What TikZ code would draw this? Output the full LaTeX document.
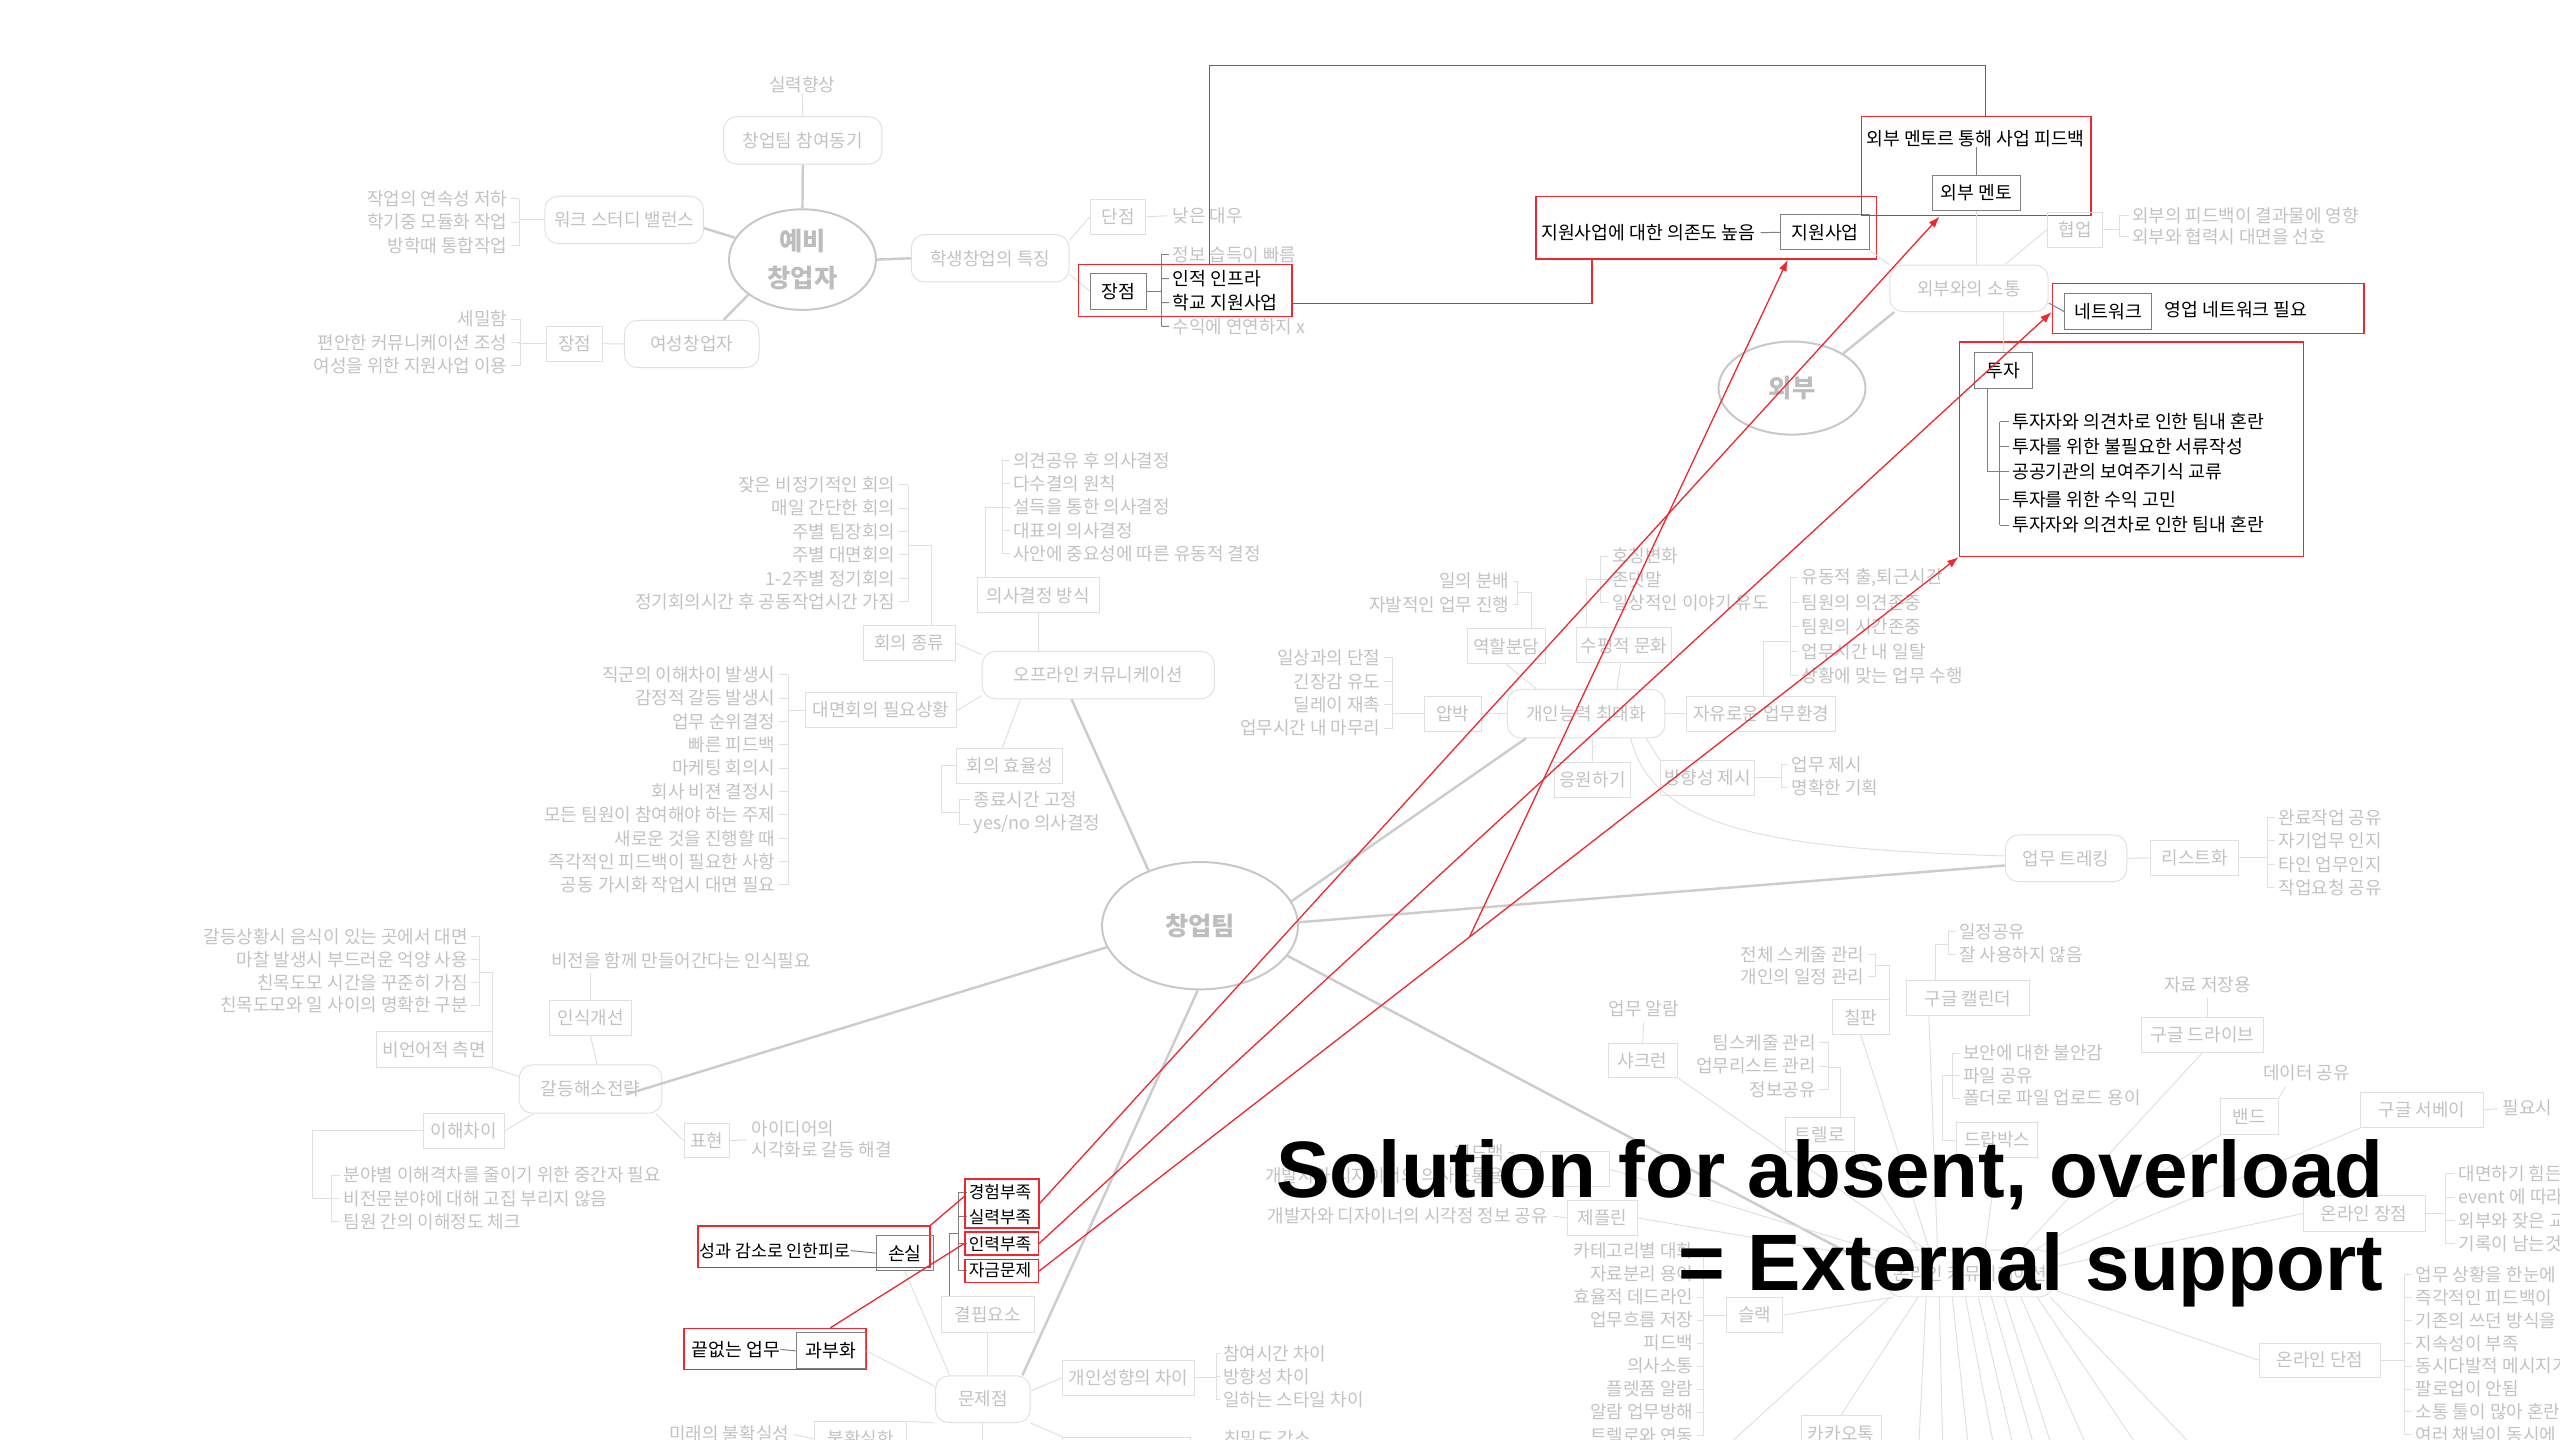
\documentclass[tikz,border=0pt]{standalone}
\usepackage{fontspec}
\usepackage{xcolor}
\usetikzlibrary{shapes.geometric, arrows.meta}
\newfontfamily\kr{Noto Sans CJK KR}
\newfontfamily\titlefont{Liberation Sans}

\definecolor{txtgrey}{gray}{0.76}
\definecolor{boxgrey}{gray}{0.88}
\definecolor{linegrey}{gray}{0.80}
\definecolor{hubgrey}{gray}{0.78}
\definecolor{hubtext}{gray}{0.74}
\definecolor{hotgrey}{gray}{0.50}
\definecolor{redline}{RGB}{238,40,46}

\tikzset{
  every node/.style={font=\kr\fontsize{11}{13}\selectfont},
  leaf/.style={text=txtgrey, inner sep=0pt},
  hotleaf/.style={text=black, inner sep=0pt, font=\kr\fontsize{11.2}{13}\selectfont},
  topic/.style={draw=boxgrey, line width=0.6pt, rounded corners=8pt, text=txtgrey, minimum height=29pt, inner sep=1.5pt},
  sub/.style={draw=boxgrey, line width=0.6pt, text=txtgrey, minimum height=21.5pt, inner sep=1.5pt},
  hot/.style={draw=hotgrey, line width=0.6pt, text=black, minimum height=21.5pt, inner sep=1.5pt, font=\kr\fontsize{11.2}{13}\selectfont},
  hub/.style={ellipse, draw=hubgrey, line width=1.2pt, text=hubtext, inner sep=0pt, align=center, font=\kr\bfseries\fontsize{15.5}{22.4}\selectfont},
  branch/.style={draw=linegrey, line width=1.5pt},
  twig/.style={draw=boxgrey, line width=0.6pt},
  hottwig/.style={draw=hotgrey, line width=0.6pt},
  redbox/.style={draw=redline, line width=0.8pt, inner sep=0pt},
  redlink/.style={draw=redline, line width=0.8pt},
  redarrow/.style={redlink, -{Latex[length=7pt,width=5pt]}},
}

\begin{document}
\begin{tikzpicture}[x=1pt, y=-1pt]
    \useasboundingbox (0,0) rectangle (1568,882);
    \clip (0,0) rectangle (1568,882);

    % pre-founder
    \node[hub, minimum width=90pt, minimum height=61.6pt] (pre) at (491.5,159) {예비\\창업자};
    \node[topic, minimum width=97pt] (motive) at (491.7,86) {창업팀 참여동기};
    \node[leaf] (skill) at (491.4,52) {실력향상};
    \draw[twig] (skill.south) -- (motive.north);
    \draw[branch] (pre.north) -- (motive.south);

    \node[topic, minimum width=97pt] (wsb) at (382.3,134.7) {워크 스터디 밸런스};
    \draw[branch] (pre.162) -- ([yshift=-5pt]wsb.east);
    \foreach \t [count=\i from 0] in {작업의 연속성 저하, 학기중 모듈화 작업, 방학때 통합작업}{
        \node[leaf, anchor=east] (wsb\i) at (311,{121.8+14.3*\i}) {\t};
        \draw[twig] ([xshift=2pt]wsb\i.east) -- (318,{121.8+14.3*\i});
    }
    \draw[twig] (318,121.8) -- (318,150.4);
    \draw[twig] (wsb.west) -- ++(-15.8,0);

    \node[topic, minimum width=82.5pt] (women) at (423.7,210.7) {여성창업자};
    \draw[branch] (pre.213) -- ([xshift=19.5pt]women.north);
    \node[sub, minimum width=34.5pt] (wpro) at (352,210.5) {장점};
    \draw[twig] (wpro.east) -- (women.west);
    \foreach \t [count=\i from 0] in {세밀함, 편안한 커뮤니케이션 조성, 여성을 위한 지원사업 이용}{
        \node[leaf, anchor=east] (wp\i) at (311,{195.5+14.3*\i}) {\t};
        \draw[twig] ([xshift=2pt]wp\i.east) -- (318.5,{195.5+14.3*\i});
    }
    \draw[twig] (318.5,195.5) -- (318.5,224.1);
    \draw[twig] (wpro.west) -- ++(-16.5,0);

    \node[topic, minimum width=96.7pt] (student) at (606.5,158.2) {학생창업의 특징};
    \draw[branch] (pre.east) -- (student.west);
    \node[sub, minimum width=34.2pt] (scon) at (684.8,132.8) {단점};
    \draw[twig] ([yshift=11pt]student.east) -- (scon.west);
    \node[leaf, anchor=west] (lowpay) at (718.2,132) {낮은 대우};
    \draw[twig, shorten >=3pt] (scon.east) -- (lowpay.west);
    \node[hot, minimum width=34.3pt, minimum height=22pt] (spro) at (685,178.4) {장점};
    \draw[twig] ([yshift=-10pt]student.east) -- (spro.west);
    \node[leaf, anchor=west] (sp0) at (718.1,156.1) {정보 습득이 빠름};
    \node[hotleaf, anchor=west] (sp1) at (718.1,170.7) {인적 인프라};
    \node[hotleaf, anchor=west] (sp2) at (718.1,185.3) {학교 지원사업};
    \node[leaf, anchor=west] (sp3) at (718.1,199.9) {수익에 연연하지 x};
    \foreach \i in {0,...,3}
        \draw[hottwig] (711.3,{156.1+14.6*\i}) -- ([xshift=-2pt]sp\i.west);
    \draw[hottwig] (711.3,156.1) -- (711.3,199.9);
    \draw[hottwig] (spro.east) -- (711.3,178.4);
    \node[redbox, minimum width=130.8pt, minimum height=32pt] (rJang) at (726,177.9) {};

    % external
    \node[redbox, minimum width=208.5pt, minimum height=38.3pt] (rJiwon) at (1045,139.5) {};
    \node[hotleaf, anchor=west] (depend) at (943.8,142.5) {지원사업에 대한 의존도 높음};
    \node[hot, minimum width=54pt] (support) at (1117.8,142.3) {지원사업};
    \draw[hottwig] ([xshift=3pt]depend.east) -- (support.west);

    \node[redbox, minimum width=140.4pt, minimum height=60.8pt] (rMentor) at (1210.5,101.8) {};
    \node[hotleaf] (feedback) at (1210,85) {외부 멘토르 통해 사업 피드백};
    \node[hot, minimum width=53.8pt] (mentor) at (1210.6,118.3) {외부 멘토};
    \draw[hottwig] (mentor.north) -- (mentor.north |- feedback.south);

    \node[topic, minimum width=97pt, minimum height=28.5pt] (extcomm) at (1206,176.6) {외부와의 소통};
    \node[hub, minimum width=90pt, minimum height=57pt] (ext) at (1097.6,237.7) {외부};
    \draw[branch] (ext.34) -- ([xshift=3pt]extcomm.south west);
    \draw[twig] (extcomm.north west) -- (support.south east);
    \draw[twig] (extcomm.north -| mentor.south) -- (mentor.south);
    \node[sub, minimum width=34pt, minimum height=21.4pt] (collab) at (1271,140.7) {협업};
    \draw[twig] ([xshift=22pt]extcomm.north) -- (collab.west);
    \node[leaf, anchor=west] (cb0) at (1305.7,132) {외부의 피드백이 결과물에 영향};
    \node[leaf, anchor=west] (cb1) at (1305.7,145) {외부와 협력시 대면을 선호};
    \draw[twig] ([xshift=-2pt]cb0.west) -- (1298,132) -- (1298,145) -- ([xshift=-2pt]cb1.west);
    \draw[twig] (collab.east) -- (1298,140.7);

    \node[redbox, minimum width=191pt, minimum height=30.6pt] (rNet) at (1352.5,189.1) {};
    \node[hot, minimum width=53.5pt] (network) at (1291.3,190.8) {네트워크};
    \node[hotleaf, anchor=west] (salesnet) at (1325.7,189.5) {영업 네트워크 필요};
    \draw[hottwig] ([yshift=-9pt]extcomm.east) -- (network.west);

    \node[redbox, minimum width=210.7pt, minimum height=131.3pt] (rInvest) at (1305.35,275.15) {};
    \node[hot, minimum width=35.2pt, minimum height=21.8pt] (invest) at (1227.2,227.1) {투자};
    \draw[twig] (extcomm.south -| invest.north) -- (invest.north);
    \foreach \t/\y [count=\i from 0] in {투자자와 의견차로 인한 팀내 혼란/258.3, 투자를 위한 불필요한 서류작성/273.5, 공공기관의 보여주기식 교류/288.8, 투자를 위한 수익 고민/305.9, 투자자와 의견차로 인한 팀내 혼란/321.6}{
        \node[hotleaf, anchor=west] (iv\i) at (1232.3,\y) {\t};
        \draw[hottwig] (1224.8,\y) -- ([xshift=-2pt]iv\i.west);
    }
    \draw[hottwig] (1224.8,258.3) -- (1224.8,321.6);
    \draw[hottwig] ([xshift=-10pt]invest.south) |- (1224.8,288.8);

    % startup team
    \node[hub, minimum width=120pt, minimum height=78pt] (team) at (735,567) {창업팀};

    % offline communication
    \node[topic, minimum width=142.2pt] (offline) at (672.7,413.5) {오프라인 커뮤니케이션};
    \draw[branch] (team.133) -- ([xshift=-16.4pt]offline.south);
    \node[sub, minimum width=75pt] (decision) at (636,364.7) {의사결정 방식};
    \draw[twig] (decision.south) -- (decision.south |- offline.north);
    \foreach \t [count=\i from 0] in {의견공유 후 의사결정, 다수결의 원칙, 설득을 통한 의사결정, 대표의 의사결정, 사안에 중요성에 따른 유동적 결정}{
        \node[leaf, anchor=west] (dc\i) at (620.4,{282+14.3*\i}) {\t};
        \draw[twig] (614.1,{282+14.3*\i}) -- ([xshift=-2pt]dc\i.west);
    }
    \draw[twig] (614.1,282) -- (614.1,339.2);
    \draw[twig] ([xshift=5.6pt]decision.north west) |- (614.1,310.6);

    \node[sub, minimum width=56.2pt] (meetkind) at (556.9,393.9) {회의 종류};
    \draw[twig] (meetkind.east) -- (offline.170);
    \foreach \t [count=\i from 0] in {잦은 비정기적인 회의, 매일 간단한 회의, 주별 팀장회의, 주별 대면회의, 1-2주별 정기회의, 정기회의시간 후 공동작업시간 가짐}{
        \node[leaf, anchor=east] (mk\i) at (548.5,{297+14.3*\i}) {\t};
        \draw[twig] ([xshift=2pt]mk\i.east) -- (556.3,{297+14.3*\i});
    }
    \draw[twig] (556.3,297) -- (556.3,368.5);
    \draw[twig] ([xshift=13.5pt]meetkind.north) |- (556.3,333.9);

    \node[sub, minimum width=92.8pt] (faceneed) at (539.6,435) {대면회의 필요상황};
    \draw[twig] (faceneed.east) -- (offline.190);
    \foreach \t [count=\i from 0] in {직군의 이해차이 발생시, 감정적 갈등 발생시, 업무 순위결정, 빠른 피드백, 마케팅 회의시, 회사 비젼 결정시, 모든 팀원이 참여해야 하는 주제, 새로운 것을 진행할 때, 즉각적인 피드백이 필요한 사항, 공동 가시화 작업시 대면 필요}{
        \node[leaf, anchor=east] (fn\i) at (475.1,{413.3+14.3*\i}) {\t};
        \draw[twig] ([xshift=2pt]fn\i.east) -- (482.9,{413.3+14.3*\i});
    }
    \draw[twig] (482.9,413.3) -- (482.9,542);
    \draw[twig] (faceneed.west) -- (482.9,435);

    \node[sub, minimum width=65pt] (efficiency) at (618.5,469) {회의 효율성};
    \draw[twig] ([xshift=-4.5pt]efficiency.north) -- ([xshift=-47.7pt]offline.south);
    \node[leaf, anchor=west] (ef0) at (596.3,489.8) {종료시간 고정};
    \node[leaf, anchor=west] (ef1) at (596.3,505.1) {yes/no 의사결정};
    \draw[twig] ([xshift=-2pt]ef0.west) -- (587.5,489.8) -- (587.5,505.1) -- ([xshift=-2pt]ef1.west);
    \draw[twig] (efficiency.west) -- (576.6,469) |- (587.5,497.4);

    % personal ability
    \node[topic, minimum width=96.5pt, minimum height=29.6pt] (ability) at (971.5,437.1) {개인능력 최대화};
    \draw[branch] (team.15) -- ([xshift=-36.8pt]ability.south);
    \node[sub, minimum width=47.8pt] (role) at (922.7,395.9) {역할분담};
    \draw[twig] (role.south) -- ([xshift=-30.5pt]ability.north);
    \node[leaf, anchor=east] (rl0) at (924.7,356) {일의 분배};
    \node[leaf, anchor=east] (rl1) at (924.7,370.3) {자발적인 업무 진행};
    \draw[twig] ([xshift=2pt]rl0.east) -- (929.5,356) -- (929.5,370.3) -- ([xshift=2pt]rl1.east);
    \draw[twig] (929.5,363.2) -| ([xshift=15.2pt]role.north);

    \node[sub, minimum width=58.4pt] (flat) at (994.6,395.3) {수평적 문화};
    \draw[twig] ([xshift=-2pt]flat.south) -- ([xshift=18.8pt]ability.north);
    \foreach \t [count=\i from 0] in {호칭변화, 존댓말, 일상적인 이야기 유도}{
        \node[leaf, anchor=west] (fl\i) at (987.2,{340.7+14.3*\i}) {\t};
        \draw[twig] (980,{340.7+14.3*\i}) -- ([xshift=-2pt]fl\i.west);
    }
    \draw[twig] (980,340.7) -- (980,369.3);
    \draw[twig] ([xshift=-23pt]flat.north) |- (980,355);

    \node[sub, minimum width=34.9pt] (pressure) at (889.8,437.1) {압박};
    \draw[twig] (pressure.east) -- (ability.west);
    \foreach \t [count=\i from 0] in {일상과의 단절, 긴장감 유도, 딜레이 재촉, 업무시간 내 마무리}{
        \node[leaf, anchor=east] (pr\i) at (845.7,{403+14.3*\i}) {\t};
        \draw[twig] ([xshift=2pt]pr\i.east) -- (852.9,{403+14.3*\i});
    }
    \draw[twig] (852.9,403) -- (852.9,445.9);
    \draw[twig] (pressure.west) -- (852.9,437.1);

    \node[sub, minimum width=91.3pt] (freework) at (1078.7,437.1) {자유로운 업무환경};
    \draw[twig] (ability.east) -- (freework.west);
    \foreach \t [count=\i from 0] in {{유동적 출,퇴근시간}, 팀원의 의견존중, 팀원의 시간존중, 업무시간 내 일탈, 상황에 맞는 업무 수행}{
        \node[leaf, anchor=west] (fw\i) at (1103.4,{354+15*\i}) {\t};
        \draw[twig] (1096.6,{354+15*\i}) -- ([xshift=-2pt]fw\i.west);
    }
    \draw[twig] (1096.6,354) -- (1096.6,414);
    \draw[twig] ([xshift=1.3pt]freework.north) |- (1096.6,392.7);

    \node[sub, minimum width=46.9pt] (cheer) at (975.4,477.5) {응원하기};
    \draw[twig] ([xshift=3.8pt]ability.south) -- (cheer.north);
    \node[sub, minimum width=57.8pt] (direction) at (1045.8,476.5) {방향성 제시};
    \draw[twig] ([xshift=36.7pt]ability.south) -- (direction.north west);
    \node[leaf, anchor=west] (dr0) at (1097.2,468.2) {업무 제시};
    \node[leaf, anchor=west] (dr1) at (1097.2,482.5) {명확한 기획};
    \draw[twig] ([xshift=-2pt]dr0.west) -- (1091,468.2) -- (1091,482.5) -- ([xshift=-2pt]dr1.west);
    \draw[twig] (direction.east) -- (1091,476.5);

    % work tracking
    \node[topic, minimum width=74.5pt, minimum height=28.6pt] (tracking) at (1265.5,525.7) {업무 트레킹};
    \draw[branch] (team.2) -- ([yshift=-4.4pt]tracking.west);
    \draw[twig] ([xshift=27.3pt]ability.south) .. controls (1013,512) and (1100,520) .. ([yshift=1.4pt]tracking.west);
    \node[sub, minimum width=53.8pt, minimum height=21pt] (listing) at (1344.3,525.5) {리스트화};
    \draw[twig] (tracking.east) -- (listing.west);
    \foreach \t [count=\i from 0] in {완료작업 공유, 자기업무 인지, 타인 업무인지, 작업요청 공유}{
        \node[leaf, anchor=west] (ls\i) at (1395.4,{500.8+14.3*\i}) {\t};
        \draw[twig] (1388.8,{500.8+14.3*\i}) -- ([xshift=-2pt]ls\i.west);
    }
    \draw[twig] (1388.8,500.8) -- (1388.8,543.7);
    \draw[twig] (listing.east) -- (1388.8,525.5);

    % conflict
    \node[topic, minimum width=87.4pt, minimum height=29.6pt] (conflict) at (361.7,667) {갈등해소전략};
    \draw[branch] (team.193) -- ([xshift=21.9pt,yshift=-3.3pt]conflict.center);
    \node[sub, minimum width=50pt, minimum height=21.7pt] (aware) at (361.7,623.5) {인식개선};
    \draw[twig] (aware.south) -- ([xshift=4.1pt]conflict.north);
    \node[leaf, anchor=west] (vision) at (337.3,588.6) {비전을 함께 만들어간다는 인식필요};
    \draw[twig] (aware.north) -- ([yshift=-2pt]aware.north |- vision.south);
    \node[sub, minimum width=70.9pt, minimum height=21.9pt] (nonverbal) at (266,642.9) {비언어적 측면};
    \draw[twig] (nonverbal.south east) -- (conflict.170);
    \foreach \t [count=\i from 0] in {갈등상황시 음식이 있는 곳에서 대면, 마찰 발생시 부드러운 억양 사용, 친목도모 시간을 꾸준히 가짐, 친목도모와 일 사이의 명확한 구분}{
        \node[leaf, anchor=east] (nv\i) at (286.7,{573.9+13.9*\i}) {\t};
        \draw[twig] ([xshift=2pt]nv\i.east) -- (293.9,{573.9+13.9*\i});
    }
    \draw[twig] (293.9,573.9) -- (293.9,615.6);
    \draw[twig] (nonverbal.north east) |- (293.9,595.8);
    \node[sub, minimum width=49.7pt] (gap) at (284,692.6) {이해차이};
    \draw[twig] (gap.east) -- ([xshift=9.3pt]conflict.south west);
    \foreach \t [count=\i from 0] in {분야별 이해격차를 줄이기 위한 중간자 필요, 비전문분야에 대해 고집 부리지 않음, 팀원 간의 이해정도 체크}{
        \node[leaf, anchor=west] (gp\i) at (210.2,{719.8+14.3*\i}) {\t};
        \draw[twig] (203.3,{719.8+14.3*\i}) -- ([xshift=-2pt]gp\i.west);
    }
    \draw[twig] (203.3,719.8) -- (203.3,748.4);
    \draw[twig] (gap.west) -| (191.4,734.1) -- (203.3,734.1);
    \node[sub, minimum width=28.1pt, minimum height=21.1pt] (express) at (433,698.7) {표현};
    \draw[twig] ([xshift=-4pt]conflict.south east) -- (express.west);
    \node[leaf, anchor=west, align=left] (idea) at (460.1,698) {아이디어의\\시각화로 갈등 해결};
    \draw[twig, shorten >=3pt] (express.east) -- (idea.west);

    % problems
    \node[topic, minimum width=58pt, minimum height=28.6pt] (problem) at (602,857) {문제점};
    \draw[branch] ([xshift=24.2pt]problem.north) -- (team.268);
    \node[sub, minimum width=56.9pt] (lack) at (604.9,805.1) {결핍요소};
    \draw[twig] (lack.south) -- (lack.south |- problem.north);
    \foreach \t/\y [count=\i from 0] in {경험부족/730.3, 실력부족/745.4, 인력부족/761.8, 자금문제/778.1}{
        \node[hotleaf, anchor=west, font=\kr\fontsize{10.4}{12}\selectfont] (lk\i) at (593.2,\y) {\t};
        \draw[hottwig] (587,\y) -- ([xshift=-1pt]lk\i.west);
    }
    \draw[hottwig] (587,730.3) -- (587,778.1);
    \draw[hottwig] ([xshift=5.5pt]lack.north west) |- (587,755.3);
    \node[redbox, minimum width=45.3pt, minimum height=30pt] (rExp) at (613.65,737.2) {};
    \node[redbox, minimum width=45pt, minimum height=14.1pt] (rStaff) at (613.5,761.65) {};
    \node[redbox, minimum width=45pt, minimum height=13.9pt] (rFund) at (613.5,778.55) {};

    \node[redbox, minimum width=142.1pt, minimum height=25.3pt] (rLoss) at (498.5,763.5) {};
    \node[hotleaf, anchor=west, font=\kr\fontsize{10.6}{12}\selectfont] (fatigue) at (428.2,766) {성과 감소로 인한피로};
    \node[hot, minimum width=35.5pt, minimum height=21.7pt] (loss) at (554.3,767.5) {손실};
    \draw[hottwig] (fatigue.east) -- (loss.west);
    \draw[twig] (loss.south) -- ([xshift=9pt]problem.north west);
    \node[redbox, minimum width=111.5pt, minimum height=24.9pt] (rOver) at (474.65,826.15) {};
    \node[hotleaf, anchor=west] (endless) at (423.6,826.5) {끝없는 업무};
    \node[hot, minimum width=42.8pt, minimum height=22pt] (overload) at (509,827.4) {과부화};
    \draw[hottwig] (endless.east) -- (overload.west);
    \draw[twig] (overload.east) -- (problem.165);

    \node[sub, minimum width=80.6pt] (personality) at (691.1,844) {개인성향의 차이};
    \draw[twig] (problem.10) -- (personality.west);
    \foreach \t [count=\i from 0] in {참여시간 차이, 방향성 차이, 일하는 스타일 차이}{
        \node[leaf, anchor=west] (ps\i) at (749.1,{829.1+14.1*\i}) {\t};
        \draw[twig] (744.8,{829.1+14.1*\i}) -- ([xshift=-2pt]ps\i.west);
    }
    \draw[twig] (744.8,829.1) -- (744.8,857.3);
    \draw[twig] (personality.east) -- (744.8,844);
    \node[sub, minimum width=56.4pt] (unsure) at (527.2,881.5) {불확실한};
    \node[leaf, anchor=east] (future) at (483.5,878) {미래의 불확실성};
    \draw[twig, shorten <=3pt] (future.east) -- (unsure.west);
    \draw[twig] (problem.south west) -- (unsure.north east);
    \node[sub, minimum width=78pt] (intimacy) at (690,891) {};
    \node[leaf, anchor=west] (closeness) at (749.6,881) {친밀도 감소};
    \draw[twig] (problem.south east) -- (intimacy.north west);
    \draw[twig] (problem.south) -- ++(0,30);

    % online communication
    \node[topic, minimum width=101.5pt, minimum height=28.5pt] (online) at (1206.8,780) {온라인 커뮤니케이션};
    \draw[branch] (team.-19) -- (online.west);

    \node[sub, minimum width=42.4pt, minimum height=20.7pt] (sharkrun) at (1006.1,649.5) {샤크런};
    \node[leaf] (alarm) at (1006.7,618) {업무 알람};
    \draw[twig] ([yshift=-3pt]alarm.south) -- (sharkrun.north);

    \node[sub, minimum width=34.4pt] (board) at (1139.8,623) {칠판};
    \node[leaf, anchor=east] (bd0) at (1142,584.8) {전체 스케줄 관리};
    \node[leaf, anchor=east] (bd1) at (1142,598.4) {개인의 일정 관리};
    \draw[twig] ([xshift=2pt]bd0.east) -- (1148.9,584.8) -- (1148.9,598.4) -- ([xshift=2pt]bd1.east);
    \draw[twig] (board.north east) |- (1148.9,591.4);

    \node[sub, minimum width=75pt] (gcal) at (1205.4,611.5) {구글 캘린더};
    \node[leaf, anchor=west] (gc0) at (1199.8,570.6) {일정공유};
    \node[leaf, anchor=west] (gc1) at (1199.8,584.8) {잘 사용하지 않음};
    \draw[twig] ([xshift=-2pt]gc0.west) -- (1193.5,570.6) -- (1193.5,584.8) -- ([xshift=-2pt]gc1.west);
    \draw[twig] ([xshift=-19.7pt]gcal.north) |- (1193.5,578.3);

    \node[sub, minimum width=42.1pt, minimum height=20.8pt] (trello) at (1114.6,694.7) {트렐로};
    \foreach \t [count=\i from 0] in {팀스케줄 관리, 업무리스트 관리, 정보공유}{
        \node[leaf, anchor=east] (tr\i) at (1112.3,{638.8+14.25*\i}) {\t};
        \draw[twig] ([xshift=2pt]tr\i.east) -- (1120.1,{638.8+14.25*\i});
    }
    \draw[twig] (1120.1,638.8) -- (1120.1,667.3);
    \draw[twig] ([xshift=12.4pt]trello.north) |- (1120.1,653.7);

    \node[sub, minimum width=50pt] (dropbox) at (1223.2,698.3) {드랍박스};
    \foreach \t [count=\i from 0] in {보안에 대한 불안감, 파일 공유, 폴더로 파일 업로드 용이}{
        \node[leaf, anchor=west] (db\i) at (1202.3,{645+13.8*\i}) {\t};
        \draw[twig] (1196,{645+13.8*\i}) -- ([xshift=-2pt]db\i.west);
    }
    \draw[twig] (1196,645) -- (1196,672.6);
    \draw[twig] (dropbox.west) -| (1189.8,658.8) -- (1196,658.8);

    \node[sub, minimum width=75pt] (gdrive) at (1349,633.7) {구글 드라이브};
    \node[leaf] (storage) at (1352.2,603.2) {자료 저장용};
    \draw[twig] ([yshift=-3pt]storage.south) -- (storage.south |- gdrive.north);
    \node[sub, minimum width=35pt, minimum height=21.8pt] (band) at (1377.8,684) {밴드};
    \node[leaf] (datashare) at (1412.8,657.3) {데이터 공유};
    \draw[twig] (band.north east) -- ([xshift=-13pt,yshift=-3pt]datashare.south);
    \node[sub, minimum width=75pt] (gsurvey) at (1483.5,679.8) {구글 서베이};
    \node[leaf, anchor=west] (whenneed) at (1532.6,678.7) {필요시};
    \draw[twig, shorten >=3pt] (gsurvey.east) -- (whenneed.west);

    \node[sub, minimum width=74.8pt, minimum height=21.8pt] (pros) at (1448,743.3) {온라인 장점};
    \foreach \t [count=\i from 0] in {대면하기 힘든, event 에 따라, 외부와 잦은 교, 기록이 남는것}{
        \node[leaf, anchor=west] (po\i) at (1505.7,{718.9+14.3*\i}) {\t};
        \draw[twig] (1498,{718.9+14.3*\i}) -- ([xshift=-2pt]po\i.west);
    }
    \draw[twig] (1498,718.9) -- (1498,761.8);
    \draw[twig] (pros.east) -- (1498,743.3);

    \node[sub, minimum width=74.6pt, minimum height=21pt] (cons) at (1421,833.1) {온라인 단점};
    \foreach \t [count=\i from 0] in {업무 상황을 한눈에, 즉각적인 피드백이, 기존의 쓰던 방식을, 지속성이 부족, 동시다발적 메시지가, 팔로업이 안됨, 소통 툴이 많아 혼란, 여러 채널이 동시에}{
        \node[leaf, anchor=west] (cn\i) at (1479.5,{780.8+14*\i}) {\t};
        \draw[twig] (1473,{780.8+14*\i}) -- ([xshift=-2pt]cn\i.west);
    }
    \draw[twig] (1473,780.8) -- (1473,878.8);
    \draw[twig] (cons.east) -- (1473,833.1);

    \node[sub, minimum width=34.4pt] (slack) at (1074.8,805.5) {슬랙};
    \foreach \t [count=\i from 0] in {카테고리별 대화, 자료분리 용이, 효율적 데드라인, 업무흐름 저장, 피드백, 의사소통, 플렛폼 알람, 알람 업무방해, 트렐로와 연동}{
        \node[leaf, anchor=east] (sl\i) at (1037.3,{766.3+14.1*\i}) {\t};
        \draw[twig] ([xshift=2pt]sl\i.east) -- (1043.6,{766.3+14.1*\i});
    }
    \draw[twig] (1043.6,766.3) -- (1043.6,879.1);
    \draw[twig] (slack.west) -- (1043.6,805.5);

    \node[sub, minimum width=42.8pt, minimum height=21.2pt] (zeplin) at (981.6,746) {제플린};
    \node[leaf, anchor=east] (visual) at (948.3,744.5) {개발자와 디자이너의 시각정 정보 공유};
    \draw[twig, shorten <=3pt] (visual.east) -- (zeplin.west);
    \node[sub, minimum width=42.2pt] (devtool) at (964.7,716.2) {};
    \node[leaf, anchor=east] (dv0) at (921.7,706) {피드백};
    \node[leaf, anchor=east] (dv1) at (921.7,720.4) {개발자와 디자이너의 의사소통용};
    \draw[twig] ([xshift=2pt]dv0.east) -- (927,706) -- (927,720.4) -- ([xshift=2pt]dv1.east);
    \draw[twig] (devtool.west) -- (927,716.2);
    \node[sub, minimum width=49pt, minimum height=22pt] (kakao) at (1127.6,878) {카카오톡};

    \draw[twig] (sharkrun.south east) -- ([xshift=24pt]online.north west);
    \draw[twig] (board.south) -- ([xshift=26pt]online.north west);
    \draw[twig] ([xshift=-24pt]gcal.south) -- ([xshift=31pt]online.north west);
    \draw[twig] (trello.south east) -- ([xshift=19pt]online.north west);
    \draw[twig] (dropbox.south) -- ([xshift=60pt]online.north west);
    \draw[twig] (gdrive.south) -- ([xshift=-20pt]online.north east);
    \draw[twig] (band.south west) -- ([xshift=-11pt]online.north east);
    \draw[twig] (gsurvey.south west) -- ([yshift=-4pt]online.north east);
    \draw[twig] (pros.west) -- ([yshift=4pt]online.east);
    \draw[twig] (cons.west) -- ([yshift=-10pt]online.east);
    \draw[twig] (zeplin.east) -- ([yshift=8pt]online.west);
    \draw[twig] (devtool.east) -- ([yshift=12pt]online.west);
    \draw[twig] (slack.east) -- ([xshift=4pt]online.south west);
    \draw[twig] (kakao.north) -- ([xshift=19pt]online.south west);
    \foreach \xs/\xe in {2/1053, 24/1175, 32/1190, 40/1206, 48/1222, 56/1234, 64/1247, 72/1258, 82/1280, 92/1312, 100/1347}
        \draw[twig] ([xshift=\xs pt]online.south west) -- (\xe,890);

    % red links
    \coordinate (topbend) at (741,40);
    \draw[redlink] (rJang.north -| topbend) -- (topbend) -| ([xshift=5.7pt]rMentor.north);
    \coordinate (sidebend) at (975,185.7);
    \draw[redlink] (rJang.east |- sidebend) -- (sidebend) -- (sidebend |- rJiwon.south);
    \draw[redlink] (rLoss.north east) -- ([yshift=4.4pt]rExp.west);
    \draw[redlink] ([xshift=33.9pt]rOver.north) -- (rStaff.west);
    \draw[redarrow] (rExp.east) -- ([xshift=-22.5pt]rMentor.south);
    \draw[redarrow] (rStaff.east) -- ([yshift=-2pt]rNet.west);
    \coordinate (kink) at (900,574);
    \draw[redlink] (rFund.east) -- (kink);
    \draw[redarrow] (kink) -- ([xshift=50pt]rJiwon.south);
    \draw[redarrow] (kink) -- (rInvest.south west);

    % headline
    \node[anchor=base east, inner sep=0pt, font=\titlefont\bfseries\fontsize{49}{58}\selectfont] (title1) at (1460,733.5) {Solution for absent, overload};
    \node[anchor=base east, inner sep=0pt, font=\titlefont\bfseries\fontsize{49}{58}\selectfont] (title2) at (1460,790.4) {= External support};
\end{tikzpicture}
\end{document}
